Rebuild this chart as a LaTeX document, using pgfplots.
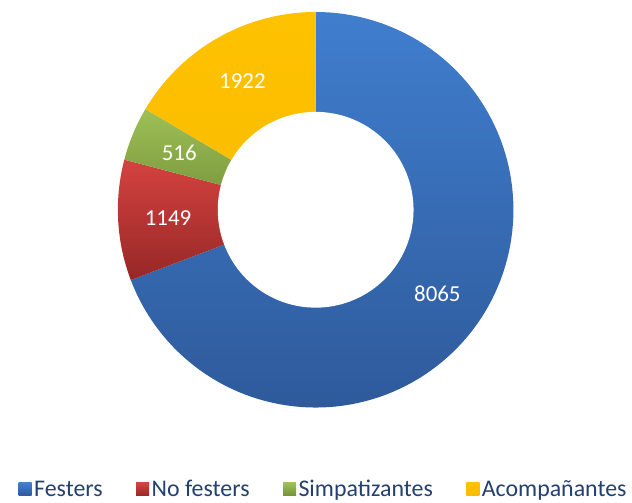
\documentclass[border=0pt]{standalone}
\usepackage{pgfplots}
\pgfplotsset{compat=1.18}
\usepackage{fontspec}
\setmainfont{Carlito}
\definecolor{bluetop}{RGB}{64,126,206}
\definecolor{bluebot}{RGB}{46,90,155}
\definecolor{redtop}{RGB}{212,66,64}
\definecolor{redbot}{RGB}{150,40,38}
\definecolor{greentop}{RGB}{158,192,86}
\definecolor{greenbot}{RGB}{116,146,58}
\definecolor{yeltop}{RGB}{255,194,0}
\definecolor{yelbot}{RGB}{250,188,0}
\definecolor{legtext}{RGB}{36,64,112}
\begin{document}
\begin{tikzpicture}
\def\vA{8065}\def\vB{1149}\def\vC{516}\def\vD{1922}
\pgfmathsetmacro\T{\vA+\vB+\vC+\vD}
\pgfmathsetmacro\aA{90-360*(\vA/\T)}
\pgfmathsetmacro\aB{\aA-360*(\vB/\T)}
\pgfmathsetmacro\aC{\aB-360*(\vC/\T)}
\pgfmathsetmacro\aD{\aC-360*(\vD/\T)}
\pgfmathsetmacro\mA{(90+\aA)/2}
\pgfmathsetmacro\mB{(\aA+\aB)/2}
\pgfmathsetmacro\mC{(\aB+\aC)/2}
\pgfmathsetmacro\mD{(\aC+\aD)/2}
\def\cx{316}\def\cy{292}\def\R{198}\def\r{98}\def\rl{148}
\begin{axis}[
  x=1bp, y=1bp, xmin=0, xmax=632, ymin=0, ymax=502,
  hide axis, clip=false,
  legend columns=4,
  legend style={at={(0.513,0.024)}, anchor=center, draw=none, fill=none,
    font=\fontsize{24}{28}\selectfont, text=legtext,
    nodes={inner xsep=2.5bp},
    /tikz/every even column/.append style={column sep=31bp}},
  legend image code/.code={\path[#1,draw=none] (0bp,-6.5bp) rectangle (13bp,6.5bp);},
]
\path (rel axis cs:0,0) rectangle (rel axis cs:1,1);
\addplot[draw=none, top color=bluetop, bottom color=bluebot, domain=\aA:90, samples=120]
  ({\cx+\R*cos(x)},{\cy+\R*sin(x)}) -- (axis cs:\cx,\cy) -- cycle;
\addlegendentry{Festers}
\addplot[draw=none, top color=redtop, bottom color=redbot, domain=\aB:\aA, samples=40]
  ({\cx+\R*cos(x)},{\cy+\R*sin(x)}) -- (axis cs:\cx,\cy) -- cycle;
\addlegendentry{No festers}
\addplot[draw=none, top color=greentop, bottom color=greenbot, domain=\aC:\aB, samples=30]
  ({\cx+\R*cos(x)},{\cy+\R*sin(x)}) -- (axis cs:\cx,\cy) -- cycle;
\addlegendentry{Simpatizantes}
\addplot[draw=none, top color=yeltop, bottom color=yelbot, domain=\aD:\aC, samples=50]
  ({\cx+\R*cos(x)},{\cy+\R*sin(x)}) -- (axis cs:\cx,\cy) -- cycle;
\addlegendentry{Acompañantes}
\addplot[draw=none, fill=white, domain=0:360, samples=150, forget plot]
  ({\cx+\r*cos(x)},{\cy+\r*sin(x)}) -- cycle;
\node[text=white, font=\fontsize{23}{27}\selectfont] at (axis cs:{\cx+\rl*cos(\mA)},{\cy+\rl*sin(\mA)}) {8065};
\node[text=white, font=\fontsize{23}{27}\selectfont] at (axis cs:{\cx+\rl*cos(\mB)},{\cy+\rl*sin(\mB)}) {1149};
\node[text=white, font=\fontsize{23}{27}\selectfont] at (axis cs:{\cx+\rl*cos(\mC)},{\cy+\rl*sin(\mC)}) {516};
\node[text=white, font=\fontsize{23}{27}\selectfont] at (axis cs:{\cx+\rl*cos(\mD)},{\cy+\rl*sin(\mD)}) {1922};
\end{axis}
\end{tikzpicture}
\end{document}
